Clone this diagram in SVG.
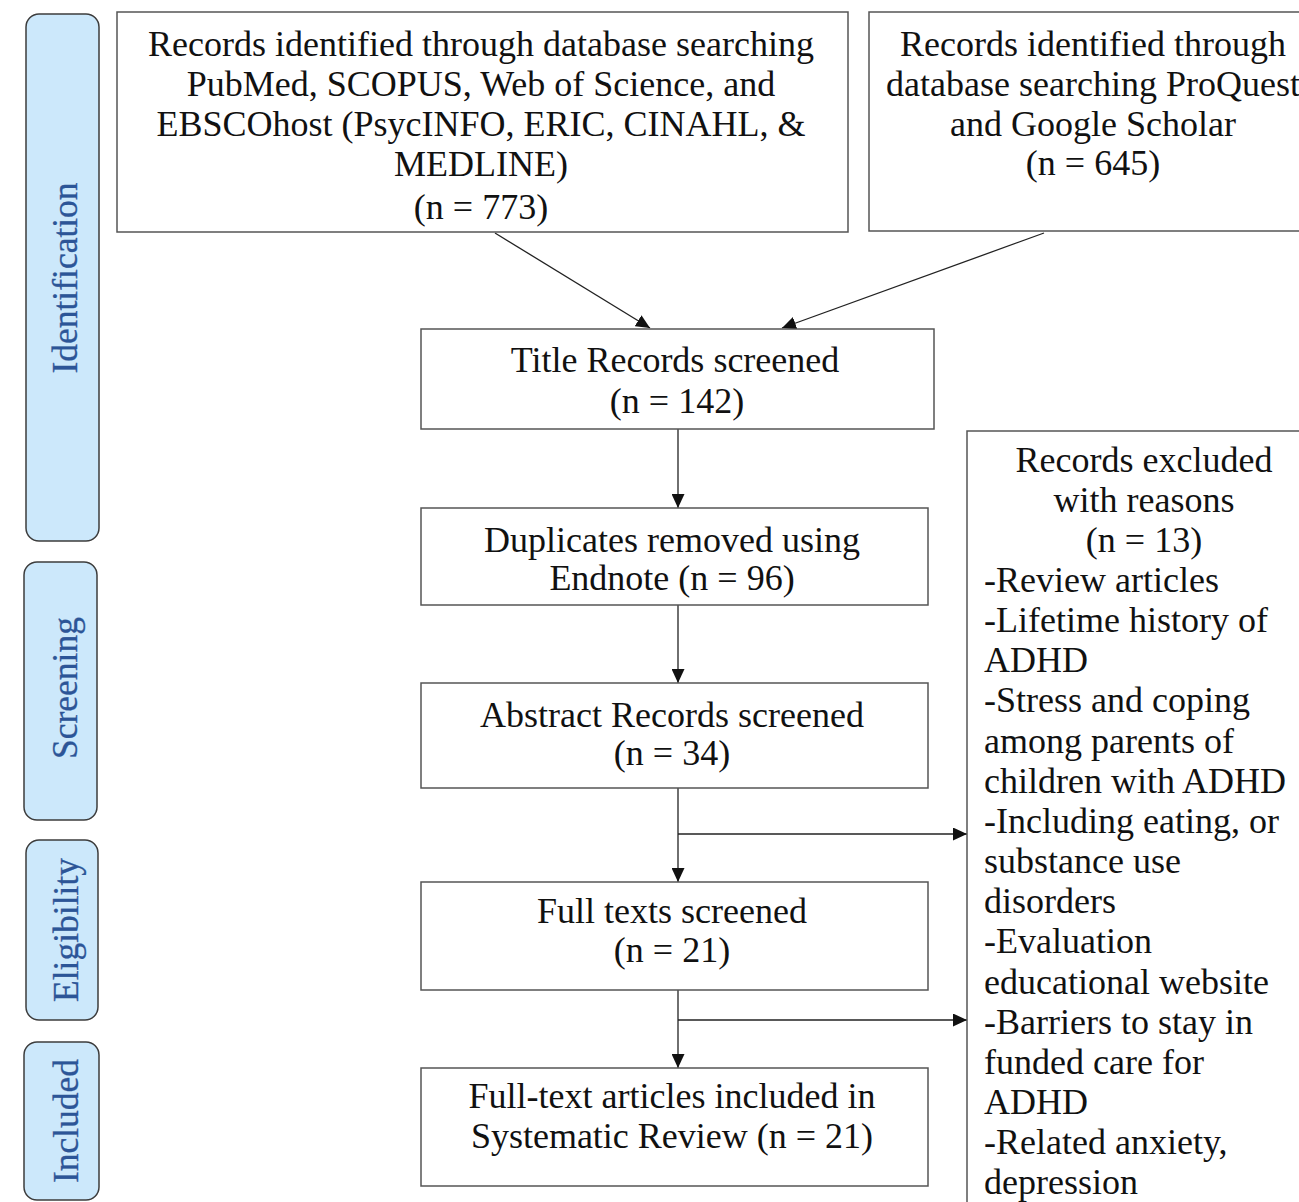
<svg xmlns="http://www.w3.org/2000/svg" width="1299" height="1202" viewBox="0 0 1299 1202">
<defs>
<style>
.box{fill:#ffffff;stroke:#555555;stroke-width:1.5}
.stage{fill:#cce8fb;stroke:#3d3d3d;stroke-width:1.5}
.t{font-family:"Liberation Serif","Times New Roman",serif;font-size:36px;fill:#111111}
.c{text-anchor:middle}
.st{font-family:"Liberation Serif","Times New Roman",serif;font-size:35.5px;fill:#2c5597;text-anchor:middle;stroke:#2c5597;stroke-width:0.3}
.ln{stroke:#222222;stroke-width:1.3;fill:none}
</style>
<marker id="ah" viewBox="0 0 14 13" refX="14" refY="6.5" markerWidth="14" markerHeight="13" markerUnits="userSpaceOnUse" orient="auto">
<path d="M0,0 L14,6.5 L0,13 Z" fill="#111111"/>
</marker>
</defs>
<rect width="1299" height="1202" fill="#ffffff"/>

<g id="stage-identification">
<rect class="stage" x="26" y="14" width="73" height="527" rx="13"/>
<text class="st" transform="translate(77,278) rotate(-90)">Identification</text>
</g>
<g id="stage-screening">
<rect class="stage" x="24" y="562" width="73" height="258" rx="13"/>
<text class="st" transform="translate(77,688) rotate(-90)">Screening</text>
</g>
<g id="stage-eligibility">
<rect class="stage" x="26" y="840" width="72" height="180" rx="13"/>
<text class="st" transform="translate(78,930) rotate(-90)">Eligibility</text>
</g>
<g id="stage-included">
<rect class="stage" x="24" y="1042" width="75" height="158" rx="13"/>
<text class="st" transform="translate(78,1121) rotate(-90)">Included</text>
</g>

<g id="connectors">
<line class="ln" x1="495" y1="233" x2="650" y2="328" marker-end="url(#ah)"/>
<line class="ln" x1="1044" y1="233" x2="782" y2="328" marker-end="url(#ah)"/>
<line class="ln" x1="678" y1="429" x2="678" y2="508" marker-end="url(#ah)"/>
<line class="ln" x1="678" y1="605" x2="678" y2="683" marker-end="url(#ah)"/>
<line class="ln" x1="678" y1="788" x2="678" y2="882" marker-end="url(#ah)"/>
<line class="ln" x1="678" y1="834" x2="967" y2="834" marker-end="url(#ah)"/>
<line class="ln" x1="678" y1="990" x2="678" y2="1068" marker-end="url(#ah)"/>
<line class="ln" x1="678" y1="1020" x2="967" y2="1020" marker-end="url(#ah)"/>
</g>

<g id="node-db1">
<rect class="box" x="117" y="12" width="731" height="220"/>
<text class="t c" x="481" y="56">Records identified through database searching</text>
<text class="t c" x="481" y="96">PubMed, SCOPUS, Web of Science, and</text>
<text class="t c" x="481" y="136">EBSCOhost (PsycINFO, ERIC, CINAHL, &amp;</text>
<text class="t c" x="481" y="176">MEDLINE)</text>
<text class="t c" x="481" y="219">(n = 773)</text>
</g>

<g id="node-db2">
<rect class="box" x="869" y="12" width="446" height="219"/>
<text class="t c" x="1093" y="56">Records identified through</text>
<text class="t c" x="1093" y="96">database searching ProQuest</text>
<text class="t c" x="1093" y="136">and Google Scholar</text>
<text class="t c" x="1093" y="175">(n = 645)</text>
</g>

<g id="node-title">
<rect class="box" x="421" y="329" width="513" height="100"/>
<text class="t c" x="675" y="372">Title Records screened</text>
<text class="t c" x="677" y="413">(n = 142)</text>
</g>

<g id="node-duplicates">
<rect class="box" x="421" y="508" width="507" height="97"/>
<text class="t c" x="672" y="552">Duplicates removed using</text>
<text class="t c" x="672" y="590">Endnote (n = 96)</text>
</g>

<g id="node-abstract">
<rect class="box" x="421" y="683" width="507" height="105"/>
<text class="t c" x="672" y="727">Abstract Records screened</text>
<text class="t c" x="672" y="765">(n = 34)</text>
</g>

<g id="node-fulltext">
<rect class="box" x="421" y="882" width="507" height="108"/>
<text class="t c" x="672" y="923">Full texts screened</text>
<text class="t c" x="672" y="962">(n = 21)</text>
</g>

<g id="node-included">
<rect class="box" x="421" y="1068" width="507" height="118"/>
<text class="t c" x="672" y="1108">Full-text articles included in</text>
<text class="t c" x="672" y="1148">Systematic Review (n = 21)</text>
</g>

<g id="node-excluded">
<rect class="box" x="967" y="431" width="360" height="800"/>
<text class="t c" x="1144" y="472">Records excluded</text>
<text class="t c" x="1144" y="512">with reasons</text>
<text class="t c" x="1144" y="552">(n = 13)</text>
<text class="t" x="984" y="592">-Review articles</text>
<text class="t" x="984" y="632">-Lifetime history of</text>
<text class="t" x="984" y="672">ADHD</text>
<text class="t" x="984" y="712">-Stress and coping</text>
<text class="t" x="984" y="753">among parents of</text>
<text class="t" x="984" y="793">children with ADHD</text>
<text class="t" x="984" y="833">-Including eating, or</text>
<text class="t" x="984" y="873">substance use</text>
<text class="t" x="984" y="913">disorders</text>
<text class="t" x="984" y="953">-Evaluation</text>
<text class="t" x="984" y="994">educational website</text>
<text class="t" x="984" y="1034">-Barriers to stay in</text>
<text class="t" x="984" y="1074">funded care for</text>
<text class="t" x="984" y="1114">ADHD</text>
<text class="t" x="984" y="1154">-Related anxiety,</text>
<text class="t" x="984" y="1194">depression</text>
</g>
</svg>
